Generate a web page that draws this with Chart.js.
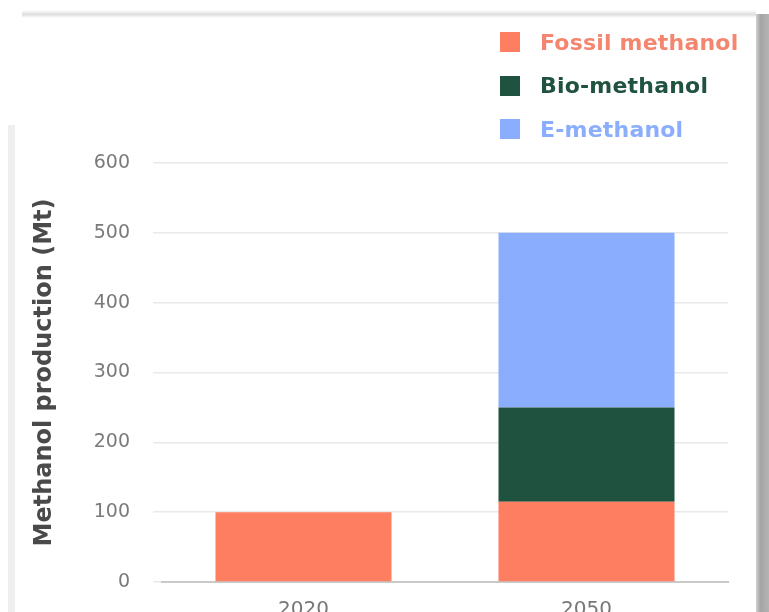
<!DOCTYPE html>
<html>
<head>
<meta charset="utf-8">
<script src="https://cdn.jsdelivr.net/npm/chart.js@4.4.1/dist/chart.umd.min.js"></script>
<style>
  html, body { margin: 0; padding: 0; background: #fff; width: 769px; height: 612px; overflow: hidden; }
  #wrap { position: relative; width: 769px; height: 640px; }
  #chart { position: absolute; left: 0; top: 0; }
  .topshade { position: absolute; left: 22px; top: 10px; width: 734px; height: 8px;
    background: linear-gradient(to bottom, rgba(0,0,0,0), rgba(0,0,0,0.13) 55%, rgba(0,0,0,0)); }
  .rightshade { position: absolute; left: 756px; top: 14px; width: 13px; height: 620px;
    background: linear-gradient(to right, #d0d0d0, #a4a4a4 35%, #b4b4b4); }
  .leftstrip { position: absolute; left: 8px; top: 125px; width: 7px; height: 500px; background: #efefef; }
  #legend { position: absolute; left: 500px; top: 30px; font-family: "DejaVu Sans", sans-serif;
    font-weight: bold; font-size: 22px; letter-spacing: 0.2px; }
  #legend .item { display: flex; align-items: center; height: 24px; margin-bottom: 19.5px; }
  #legend .box { width: 20px; height: 20px; margin-right: 20px; }
</style>
</head>
<body>
<div id="wrap">
  <div class="topshade"></div>
  <div class="rightshade"></div>
  <div class="leftstrip"></div>
  <canvas id="chart" width="769" height="640"></canvas>
  <div id="legend"></div>
</div>
<script>
// data (Mt)
const years = ['2020', '2050'];
const fossil = [100, 115];
const bio = [0, 135];
const eMethanol = [0, 250];
const yTicks = [0, 100, 200, 300, 400, 500, 600];

const colors = {
  fossil: '#fe7e62',
  bio: '#20533f',
  e: '#8aadfd'
};
const legendText = ['#f48670', '#20533f', '#8aadfd'];

const ctx = document.getElementById('chart').getContext('2d');

const chart = new Chart(ctx, {
  type: 'bar',
  data: {
    labels: years,
    datasets: [
      { label: 'Fossil methanol', data: fossil, backgroundColor: colors.fossil },
      { label: 'Bio-methanol', data: bio, backgroundColor: colors.bio },
      { label: 'E-methanol', data: eMethanol, backgroundColor: colors.e }
    ]
  },
  options: {
    responsive: false,
    animation: false,
    layout: { padding: { top: 163, right: 41, bottom: 10, left: 0 } },
    datasets: {
      bar: { barPercentage: 0.622, categoryPercentage: 1 }
    },
    plugins: {
      legend: { display: false },
      tooltip: { enabled: false }
    },
    scales: {
      x: {
        stacked: true,
        grid: { display: false },
        border: { display: true, color: '#c9c9c9', width: 2 },
        ticks: {
          color: '#777',
          padding: 8,
          font: { family: 'DejaVu Sans', size: 20 }
        }
      },
      y: {
        stacked: true,
        min: 0,
        max: 600,
        afterBuildTicks(scale) {
          scale.ticks = yTicks.map(v => ({ value: v }));
        },
        afterFit(scale) { scale.width = 162; },
        grid: { color: '#e9e9e9', lineWidth: 1.5, tickLength: 9 },
        border: { display: false },
        ticks: {
          color: '#7a7a7a',
          padding: 23,
          font: { family: 'DejaVu Sans', size: 19 }
        },
        title: {
          display: true,
          text: 'Methanol production (Mt)',
          color: '#4a4a4a',
          padding: { top: 30, bottom: 0 },
          font: { family: 'DejaVu Sans', size: 24, weight: 'bold' }
        }
      }
    }
  }
});

// legend built from the chart's datasets
const legend = document.getElementById('legend');
chart.data.datasets.forEach((ds, i) => {
  const item = document.createElement('div');
  item.className = 'item';
  const box = document.createElement('span');
  box.className = 'box';
  box.style.background = ds.backgroundColor;
  const txt = document.createElement('span');
  txt.textContent = ds.label;
  txt.style.color = legendText[i];
  item.appendChild(box);
  item.appendChild(txt);
  legend.appendChild(item);
});
</script>
</body>
</html>
